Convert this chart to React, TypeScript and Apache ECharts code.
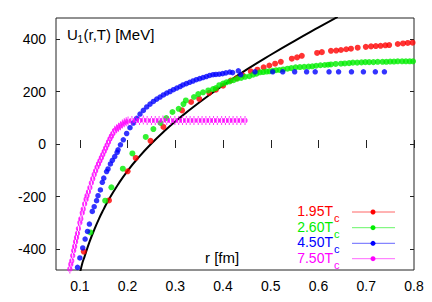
import React, { useEffect, useRef } from "react";
import * as echarts from "echarts";

// r [fm], U1 [MeV]
const CURVE: number[][] = [
  [0.101, -485], [0.105, -455], [0.11, -428], [0.12, -374], [0.13, -327], [0.14, -285],
  [0.15, -248], [0.16, -213], [0.18, -154], [0.2, -102], [0.225, -47], [0.25, 2],
  [0.275, 46], [0.3, 86], [0.35, 158], [0.4, 223], [0.45, 284], [0.5, 340],
  [0.55, 393], [0.6, 444], [0.64, 484],
];

const T195: number[][] = [
  [0.108, -410], [0.161, -215], [0.2, -104], [0.217, -53], [0.248, 12], [0.275, 65],
  [0.314, 128], [0.333, 160], [0.35, 172], [0.371, 195], [0.385, 207], [0.4, 222],
  [0.416, 242], [0.428, 250], [0.441, 262], [0.458, 277], [0.472, 283], [0.485, 292],
  [0.497, 299], [0.509, 306], [0.521, 313], [0.544, 325], [0.555, 330], [0.565, 336],
  [0.597, 347], [0.607, 350], [0.626, 355], [0.637, 356], [0.647, 358], [0.658, 361],
  [0.668, 363], [0.682, 367], [0.699, 370], [0.71, 372], [0.72, 373], [0.73, 374],
  [0.74, 376], [0.748, 377], [0.766, 381], [0.777, 383], [0.787, 385], [0.797, 386],
];

const T260: number[][] = [
  [0.122, -337], [0.153, -216], [0.166, -165], [0.19, -94], [0.21, -36], [0.238, 27],
  [0.254, 57], [0.269, 80], [0.281, 99], [0.294, 122], [0.307, 134], [0.317, 152],
  [0.322, 166], [0.339, 179], [0.348, 190], [0.358, 197], [0.369, 204], [0.379, 209],
  [0.385, 213], [0.392, 224], [0.4, 230], [0.407, 235], [0.414, 238], [0.422, 243],
  [0.43, 249], [0.438, 252], [0.446, 256], [0.455, 258], [0.463, 264], [0.47, 268],
  [0.477, 273], [0.484, 274], [0.491, 276], [0.497, 277], [0.504, 279], [0.511, 281],
  [0.518, 282], [0.526, 284], [0.535, 287], [0.543, 289], [0.552, 292], [0.561, 293],
  [0.57, 294], [0.579, 295], [0.587, 296], [0.595, 298], [0.604, 300], [0.613, 301],
  [0.62, 302], [0.626, 303], [0.636, 305], [0.647, 306], [0.655, 307], [0.664, 308],
  [0.672, 310], [0.681, 310], [0.69, 311], [0.698, 312], [0.706, 312], [0.715, 312],
  [0.724, 313], [0.734, 313], [0.742, 313], [0.75, 314], [0.758, 314], [0.766, 315],
  [0.775, 315], [0.783, 315], [0.791, 315], [0.798, 315],
];

const T450: number[][] = [
  [0.095, -470], [0.1, -434], [0.106, -396], [0.111, -362], [0.116, -333], [0.12, -305],
  [0.126, -257], [0.13, -239], [0.135, -216], [0.138, -197], [0.143, -175], [0.147, -146],
  [0.15, -130], [0.156, -105], [0.159, -95], [0.164, -76], [0.168, -62], [0.173, -48],
  [0.178, -32], [0.18, -22], [0.185, -3], [0.191, 16], [0.198, 40], [0.205, 62],
  [0.212, 80], [0.219, 98], [0.226, 114], [0.233, 128], [0.24, 141], [0.247, 152],
  [0.254, 162], [0.261, 171], [0.268, 179], [0.275, 187], [0.282, 194], [0.289, 200],
  [0.296, 207], [0.303, 213], [0.31, 219], [0.316, 225], [0.323, 230], [0.33, 235],
  [0.337, 240], [0.344, 245], [0.351, 249], [0.358, 253], [0.365, 257], [0.372, 261],
  [0.379, 264], [0.385, 265], [0.392, 266], [0.399, 268], [0.406, 271], [0.414, 274],
  [0.42, 272], [0.432, 279], [0.437, 264], [0.467, 275], [0.504, 275], [0.525, 275],
  [0.55, 275], [0.575, 275], [0.593, 275], [0.622, 275], [0.642, 275], [0.669, 275],
  [0.694, 275], [0.719, 275], [0.738, 275],
];

const T750: number[][] = [
  [0.079, -476], [0.081, -458], [0.083, -445], [0.085, -425], [0.087, -406], [0.089, -390],
  [0.091, -372], [0.093, -356], [0.095, -340], [0.097, -322], [0.1, -299], [0.102, -285],
  [0.105, -262], [0.107, -248], [0.11, -228], [0.113, -210], [0.115, -197], [0.118, -182],
  [0.121, -166], [0.124, -148], [0.127, -132], [0.13, -116], [0.133, -102], [0.136, -88],
  [0.139, -76], [0.142, -64], [0.145, -52], [0.148, -40], [0.151, -28], [0.154, -16],
  [0.157, -4], [0.16, 8], [0.163, 20], [0.166, 30], [0.169, 40], [0.173, 52],
  [0.177, 58], [0.181, 64], [0.185, 70], [0.189, 76], [0.193, 81], [0.197, 85],
  [0.201, 88], [0.209, 90], [0.217, 90], [0.225, 90], [0.233, 91], [0.241, 90],
  [0.25, 90], [0.258, 90], [0.266, 90], [0.274, 91], [0.282, 90], [0.29, 90],
  [0.299, 90], [0.307, 90], [0.315, 90], [0.323, 90], [0.331, 90], [0.339, 90],
  [0.348, 90], [0.356, 90], [0.364, 90], [0.372, 90], [0.38, 90], [0.388, 90],
  [0.397, 90], [0.405, 90], [0.413, 90], [0.421, 90], [0.429, 90], [0.437, 90], [0.446, 90],
];

const X_TICKS = [0.1, 0.2, 0.3, 0.4, 0.5, 0.6, 0.7, 0.8];
const Y_TICKS = [-400, -200, 0, 200, 400];
const LEGEND_LABELS = ["1.95T", "2.60T", "4.50T", "7.50T"];
const COLORS = ["#ff0000", "#00ee00", "#0000ff", "#ff00ff"];

const FONT = "'Liberation Sans', Arial, Helvetica, sans-serif";

export default function App() {
  const ref = useRef<HTMLDivElement>(null);
  useEffect(() => {
    if (!ref.current) return;
    const chart = echarts.init(ref.current, undefined, { renderer: "svg" });
    const xBase = (pos: "bottom" | "top", showLabel: boolean) => ({
      type: "value" as const,
      position: pos,
      min: 0.05,
      max: 0.8,
      axisLine: { show: false },
      splitLine: { show: false },
      axisTick: { show: true, inside: true, length: 4, customValues: X_TICKS, lineStyle: { color: "#222" } },
      axisLabel: {
        show: showLabel,
        customValues: X_TICKS,
        margin: 9,
        color: "#000",
        fontSize: 14,
        fontFamily: FONT,
        formatter: (v: number) => v.toFixed(1),
      },
    });
    const yBase = (pos: "left" | "right", showLabel: boolean) => ({
      type: "value" as const,
      position: pos,
      min: -480,
      max: 480,
      axisLine: { show: false },
      splitLine: { show: false },
      axisTick: { show: true, inside: true, length: 4, customValues: Y_TICKS, lineStyle: { color: "#222" } },
      axisLabel: {
        show: showLabel,
        customValues: Y_TICKS,
        margin: 10,
        color: "#000",
        fontSize: 14,
        fontFamily: FONT,
        formatter: (v: number) => String(v),
      },
    });
    const rows = [212, 227.7, 243.3, 258.7];
    const legendGraphics: any[] = [];
    rows.forEach((y, i) => {
      legendGraphics.push({
        type: "text",
        x: 333,
        y: y - 1,
        style: { text: LEGEND_LABELS[i], fill: COLORS[i], font: `14px ${FONT}`, textAlign: "right", textVerticalAlign: "middle" },
      });
      legendGraphics.push({
        type: "text",
        x: 334,
        y: y + 6,
        style: { text: "c", fill: COLORS[i], font: `11px ${FONT}`, textAlign: "left", textVerticalAlign: "middle" },
      });
      legendGraphics.push({
        type: "line",
        shape: { x1: 352, y1: y, x2: 395, y2: y },
        style: { stroke: COLORS[i], lineWidth: 1, opacity: 0.6 },
      });
      legendGraphics.push({
        type: "circle",
        shape: { cx: 373, cy: y, r: 2.5 },
        style: { fill: COLORS[i] },
      });
    });
    const scatter = (data: number[][], color: string, z: number, symbol?: string, size?: any) => ({
      type: "scatter" as const,
      data,
      symbol: symbol || "circle",
      symbolSize: size || 6,
      itemStyle: { color },
      z,
      silent: true,
    });
    chart.setOption({
      animation: false,
      grid: { left: 56, right: 18, top: 18, bottom: 32, show: true, borderColor: "#222", borderWidth: 1, backgroundColor: "transparent" },
      xAxis: [xBase("bottom", true), xBase("top", false)],
      yAxis: [yBase("left", true), yBase("right", false)],
      series: [
        {
          type: "line",
          data: CURVE,
          smooth: true,
          symbol: "none",
          lineStyle: { color: "#000", width: 2 },
          z: 1,
          silent: true,
        },
        scatter(T195, COLORS[0], 2),
        scatter(T260, COLORS[1], 3),
        scatter(T450, COLORS[2], 4, "circle", 5.5),
        scatter(
          T750,
          COLORS[3],
          5,
          "path://M-0.5,-4.5H0.5V4.5H-0.5Z M-2.6,0A2.6,2.6 0 1,0 2.6,0A2.6,2.6 0 1,0 -2.6,0Z",
          [5.2, 9]
        ),
      ],
      graphic: [
        { type: "text", x: 67, y: 34, style: { text: "U", fill: "#000", font: `15px ${FONT}`, textVerticalAlign: "middle" } },
        { type: "text", x: 77.5, y: 39.5, style: { text: "1", fill: "#000", font: `10px ${FONT}`, textVerticalAlign: "middle" } },
        { type: "text", x: 83.5, y: 34, style: { text: "(r,T) [MeV]", fill: "#000", font: `15px ${FONT}`, textVerticalAlign: "middle" } },
        { type: "text", x: 205, y: 257, style: { text: "r [fm]", fill: "#000", font: `15px ${FONT}`, textVerticalAlign: "middle" } },
        ...legendGraphics,
      ],
    });
    return () => chart.dispose();
  }, []);
  return <div ref={ref} style={{ position: "fixed", left: 0, top: 0, width: 432, height: 302, background: "#fff" }} />;
}
